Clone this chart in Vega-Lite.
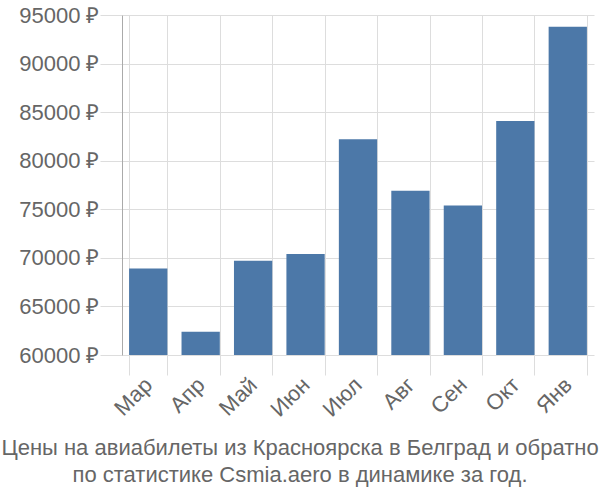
{
  "$schema": "https://vega.github.io/schema/vega-lite/v6.json",
  "autosize": "none",
  "width": 472,
  "height": 340,
  "padding": {"left": 122, "top": 15, "right": 6, "bottom": 145},
  "background": "white",
  "data": {
    "values": [
      {"month": "Мар", "price": 68900},
      {"month": "Апр", "price": 62400},
      {"month": "Май", "price": 69700},
      {"month": "Июн", "price": 70400},
      {"month": "Июл", "price": 82200},
      {"month": "Авг", "price": 76900},
      {"month": "Сен", "price": 75400},
      {"month": "Окт", "price": 84100},
      {"month": "Янв", "price": 93800}
    ]
  },
  "title": {
    "text": ["Цены на авиабилеты из Красноярска в Белград и обратно", "по статистике Csmia.aero в динамике за год."],
    "orient": "bottom",
    "anchor": "middle",
    "frame": "group",
    "dx": -58,
    "offset": 18,
    "font": "Liberation Sans",
    "fontSize": 22,
    "fontWeight": "normal",
    "color": "#666666",
    "lineHeight": 27
  },
  "config": {
    "view": {"stroke": null},
    "font": "Liberation Sans"
  },
  "mark": {"type": "bar", "color": "#4c78a8", "clip": true},
  "encoding": {
    "x": {
      "field": "month",
      "type": "nominal",
      "sort": null,
      "scale": {"paddingInner": 0.27, "paddingOuter": 0.135},
      "axis": {
        "title": null,
        "labelAngle": -45,
        "labelAlign": "right",
        "labelBaseline": "middle",
        "labelFontSize": 22,
        "labelColor": "#666666",
        "labelFont": "Liberation Sans",
        "tickBand": "extent",
        "tickSize": 20,
        "tickColor": "#dddddd",
        "gridColor": "#dddddd",
        "grid": true,
        "domain": false,
        "labelPadding": 6
      }
    },
    "y": {
      "field": "price",
      "type": "quantitative",
      "scale": {"domain": [60000, 95000], "nice": false, "zero": false},
      "axis": {
        "title": null,
        "values": [60000, 65000, 70000, 75000, 80000, 85000, 90000, 95000],
        "format": "d",
        "labelExpr": "datum.label + ' ₽'",
        "labelFontSize": 22,
        "labelColor": "#666666",
        "labelFont": "Liberation Sans",
        "tickSize": 22,
        "tickColor": "#dddddd",
        "gridColor": "#dddddd",
        "domainColor": "#aaaaaa",
        "labelPadding": 1
      }
    }
  }
}
